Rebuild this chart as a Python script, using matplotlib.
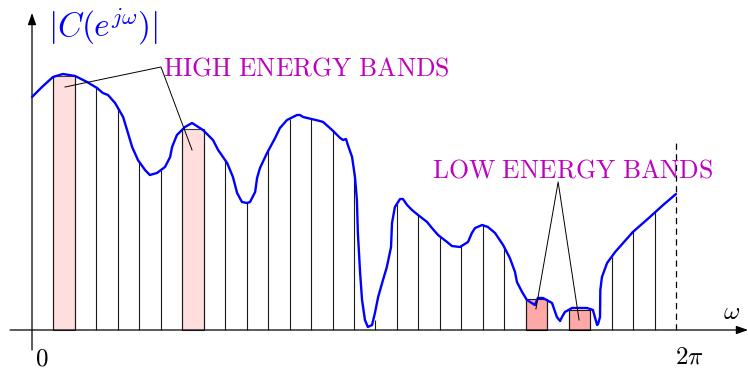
import matplotlib
matplotlib.use("Agg")
import matplotlib.pyplot as plt
import numpy as np

plt.rcParams["mathtext.fontset"] = "cm"

# spectrum |C(e^jw)|; omega in units of pi
curve_w = [0.000, 0.031, 0.065, 0.096, 0.134, 0.171, 0.202, 0.220, 0.236, 0.258,
           0.283, 0.298, 0.311, 0.329, 0.351, 0.366, 0.388, 0.413, 0.429, 0.435,
           0.450, 0.475, 0.497, 0.531, 0.562, 0.578, 0.606, 0.624, 0.637, 0.652,
           0.668, 0.677, 0.693, 0.699, 0.708, 0.730, 0.755, 0.770, 0.792, 0.823,
           0.832, 0.842, 0.894, 0.904, 0.932, 0.957, 0.966, 0.975, 0.981, 0.994,
           1.003, 1.009, 1.012, 1.019, 1.025, 1.034, 1.043, 1.056, 1.065, 1.075,
           1.090, 1.102, 1.115, 1.118, 1.127, 1.143, 1.152, 1.165, 1.180, 1.199,
           1.227, 1.242, 1.261, 1.289, 1.304, 1.329, 1.354, 1.366, 1.376, 1.398,
           1.416, 1.438, 1.463, 1.484, 1.500, 1.506, 1.522, 1.537, 1.562, 1.571,
           1.587, 1.615, 1.630, 1.640, 1.646, 1.655, 1.677, 1.724, 1.742, 1.748,
           1.755, 1.758, 1.764, 1.765, 1.770, 1.786, 1.811, 1.866, 1.919, 1.960,
           2.000]
curve_mag = [2.33, 2.43, 2.53, 2.56, 2.54, 2.48, 2.42, 2.37, 2.35, 2.27,
             2.13, 1.97, 1.83, 1.70, 1.60, 1.55, 1.57, 1.63, 1.73, 1.83,
             1.95, 2.03, 2.07, 2.00, 1.90, 1.80, 1.67, 1.53, 1.37, 1.28,
             1.27, 1.28, 1.38, 1.52, 1.62, 1.77, 1.92, 2.02, 2.10, 2.15,
             2.15, 2.13, 2.09, 2.08, 2.00, 1.92, 1.90, 1.91, 1.85, 1.73,
             1.53, 1.30, 0.97, 0.57, 0.30, 0.10, 0.03, 0.05, 0.17, 0.33,
             0.50, 0.63, 0.83, 1.07, 1.23, 1.31, 1.31, 1.25, 1.20, 1.15,
             1.08, 1.02, 0.95, 0.88, 0.84, 0.83, 0.88, 0.97, 1.02, 1.05,
             1.03, 0.97, 0.85, 0.72, 0.58, 0.48, 0.38, 0.30, 0.25, 0.32,
             0.32, 0.27, 0.13, 0.09, 0.13, 0.18, 0.22, 0.22, 0.20, 0.13,
             0.05, 0.06, 0.13, 0.40, 0.53, 0.67, 0.78, 0.98, 1.13, 1.25,
             1.36]

n_bands = 30
# height of the stem at each band edge k = 1..29
stem_mag = [2.54, 2.54, 2.42, 2.22, 1.68, 1.60, 2.01, 2.01, 1.70, 1.27,
            1.79, 2.11, 2.11, 2.00, 1.58, 0.10, 1.26, 1.15, 0.94, 0.84,
            1.05, 0.84, 0.31, 0.31, 0.20, 0.20, 0.73, 0.98, 1.18]

high_bands = [1, 7]
high_mag = [2.54, 2.01]
low_bands = [23, 25]
low_mag = [0.31, 0.20]

magenta = "#bf00bf"
width = 2 * np.pi / n_bands

fig = plt.figure(figsize=(7.48, 3.73), dpi=100)
ax = fig.add_axes([0, 0, 1, 1])
ax.set_xlim(-0.0994 * np.pi, 2.2236 * np.pi)
ax.set_ylim(-0.43, 3.30)
ax.axis("off")

# band edges
edges = np.arange(1, n_bands) * width
ax.vlines(edges, 0, stem_mag, color="0.1", lw=0.8, zorder=2)

ax.bar(np.array(high_bands) * width, high_mag, width=width, align="edge",
       color="#ffdede", edgecolor="0.25", lw=0.8, zorder=1)
ax.bar(np.array(low_bands) * width, low_mag, width=width, align="edge",
       color="#ffa8a8", edgecolor="0.1", lw=0.8, zorder=1)

ax.plot(np.array(curve_w) * np.pi, curve_mag, color="#0000ff", lw=1.7,
        solid_joinstyle="round", solid_capstyle="round", zorder=4)

# axes with arrows
ax.annotate("", xy=(2.2236 * np.pi, 0), xytext=(-0.0683 * np.pi, 0),
            arrowprops=dict(arrowstyle="-|>,head_length=0.7,head_width=0.25",
                            color="black", lw=0.9, shrinkA=0, shrinkB=0), zorder=3)
ax.annotate("", xy=(0, 3.17), xytext=(0, -0.20),
            arrowprops=dict(arrowstyle="-|>,head_length=0.7,head_width=0.25",
                            color="black", lw=0.9, shrinkA=0, shrinkB=0), zorder=3)
ax.plot([2 * np.pi, 2 * np.pi], [0, 1.90], color="black", lw=0.9,
        dashes=(5, 3.5), zorder=3)

# annotations
ax.plot(np.array([0.1025, 0.4006, 0.497]) * np.pi, [2.43, 2.63, 1.80],
        color="black", lw=0.7, zorder=5)
ax.plot(np.array([1.565, 1.634, 1.699]) * np.pi, [0.21, 1.48, 0.10],
        color="black", lw=0.7, zorder=5)

ax.text(0.4068 * np.pi, 2.55, r"$\mathrm{HIGH\ ENERGY\ BANDS}$", color=magenta,
        fontsize=18.5, ha="left", va="baseline")
ax.text(1.242 * np.pi, 1.52, r"$\mathrm{LOW\ ENERGY\ BANDS}$", color=magenta,
        fontsize=18.5, ha="left", va="baseline")
ax.text(0.0497 * np.pi, 3.03, r"$|C(e^{j\omega})|$", color="#0000ff",
        fontsize=24, ha="left", va="center")
ax.text(2.174 * np.pi, 0.18, r"$\omega$", fontsize=18, ha="center", va="center")
ax.text(2.040 * np.pi, -0.27, r"$2\pi$", fontsize=18, ha="center", va="center")
ax.text(0.031 * np.pi, -0.29, r"$0$", fontsize=18, ha="center", va="center")

fig.savefig("out.png", dpi=100)
